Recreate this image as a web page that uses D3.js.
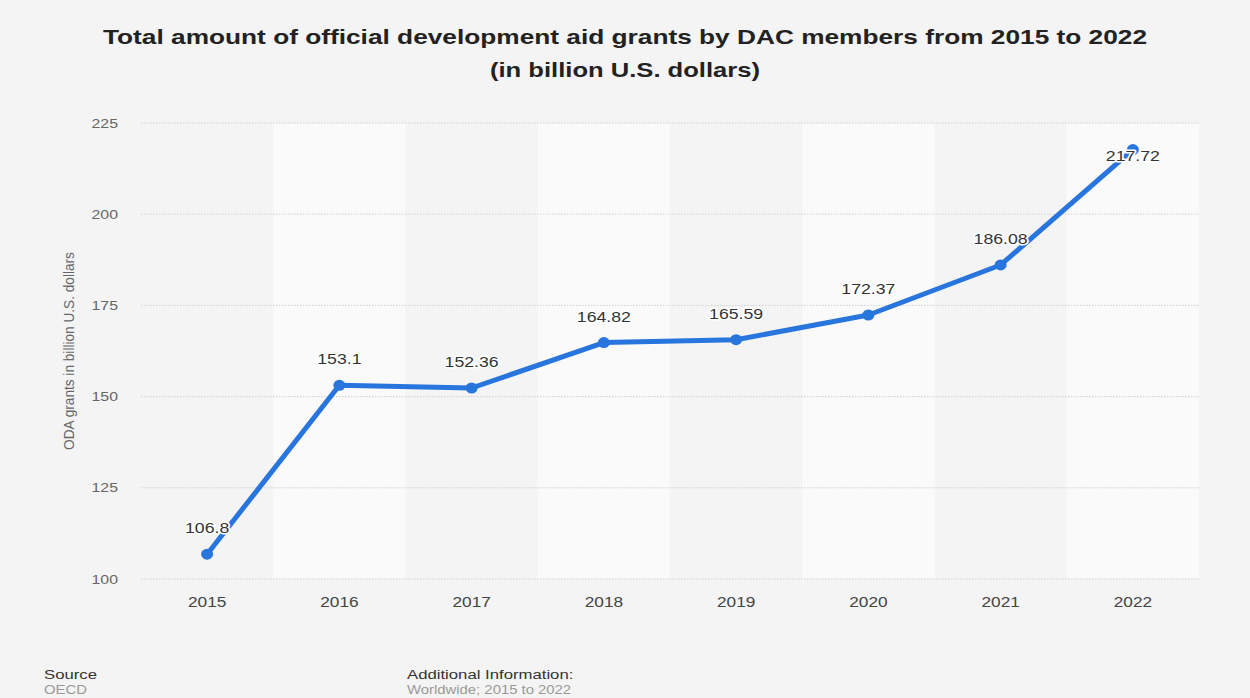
<!DOCTYPE html>
<html>
<head>
<meta charset="utf-8">
<script src="https://cdn.jsdelivr.net/npm/d3@7"></script>
<style>
  body { margin: 0; background: #f4f4f4; font-family: "Liberation Sans", Arial, sans-serif; }
  svg { display: block; }
</style>
</head>
<body>
<svg id="chart" width="1250" height="698"></svg>
<script>
const years = ["2015", "2016", "2017", "2018", "2019", "2020", "2021", "2022"];
const grants = [106.8, 153.1, 152.36, 164.82, 165.59, 172.37, 186.08, 217.72];
const yTicks = [100, 125, 150, 175, 200, 225];

const svg = d3.select("#chart");
const width = 1250, height = 698;
const margin = {top: 123, right: 51, bottom: 119, left: 141};

svg.append("rect").attr("width", width).attr("height", height).attr("fill", "#f4f4f4");

const x = d3.scaleBand().domain(years).range([margin.left, width - margin.right]);
const y = d3.scaleLinear().domain([100, 225]).range([height - margin.bottom, margin.top]);

// the reference text is a bit wide, stretch it horizontally
function stretched(sel, px, py, sx) {
  return sel.attr("transform", (d, i) => `translate(${px(d, i)},${py(d, i)}) scale(${sx},1)`);
}

// alternating bands
svg.append("g").selectAll("rect")
  .data(years.filter((d, i) => i % 2 == 1))
  .join("rect")
  .attr("x", d => x(d))
  .attr("y", y(225))
  .attr("width", x.bandwidth())
  .attr("height", y(100) - y(225))
  .attr("fill", "#fafafa");

// grid
svg.append("g").selectAll("line")
  .data(yTicks)
  .join("line")
  .attr("x1", margin.left).attr("x2", width - margin.right)
  .attr("y1", d => y(d)).attr("y2", d => y(d))
  .attr("stroke", "#cfcfcf")
  .attr("stroke-width", 1)
  .attr("stroke-dasharray", "1.5,1.5");

// y tick labels
stretched(svg.append("g").selectAll("text")
  .data(yTicks)
  .join("text"), () => 118, d => y(d) + 4.5, 1.22)
  .attr("text-anchor", "end")
  .attr("font-size", 13)
  .attr("fill", "#666")
  .text(d => d);

// x labels
stretched(svg.append("g").selectAll("text")
  .data(years)
  .join("text"), d => x(d) + x.bandwidth() / 2, () => 607, 1.15)
  .attr("text-anchor", "middle")
  .attr("font-size", 15)
  .attr("fill", "#444")
  .text(d => d);

// y axis title
svg.append("text")
  .attr("transform", `translate(74,${(y(100) + y(225)) / 2}) rotate(-90) scale(1.05,1.15)`)
  .attr("text-anchor", "middle")
  .attr("font-size", 13)
  .attr("fill", "#666")
  .text("ODA grants in billion U.S. dollars");

// line
const pts = years.map((d, i) => [x(d) + x.bandwidth() / 2, y(grants[i])]);
svg.append("path")
  .attr("d", d3.line()(pts))
  .attr("fill", "none")
  .attr("stroke", "#2876dd")
  .attr("stroke-width", 5)
  .attr("stroke-linejoin", "round");

svg.append("g").selectAll("ellipse")
  .data(pts)
  .join("ellipse")
  .attr("cx", d => d[0]).attr("cy", d => d[1])
  .attr("rx", 6).attr("ry", 5.5)
  .attr("fill", "#2876dd");

// value labels (last one sits on its point, as in the original)
stretched(svg.append("g").selectAll("text")
  .data(years)
  .join("text"),
  d => x(d) + x.bandwidth() / 2,
  (d, i) => i == years.length - 1 ? y(grants[i]) + 11 : y(grants[i]) - 21, 1.18)
  .attr("text-anchor", "middle")
  .attr("font-size", 15)
  .attr("fill", "#333")
  .attr("stroke", "#fff")
  .attr("stroke-width", 3)
  .attr("stroke-linejoin", "round")
  .attr("paint-order", "stroke")
  .text((d, i) => grants[i]);

// title
const title = svg.append("text")
  .attr("text-anchor", "middle")
  .attr("font-size", 20.5)
  .attr("font-weight", "bold")
  .attr("fill", "#222");
title.append("tspan").attr("x", 625).attr("y", 44)
  .attr("textLength", 1044).attr("lengthAdjust", "spacingAndGlyphs")
  .text("Total amount of official development aid grants by DAC members from 2015 to 2022");
title.append("tspan").attr("x", 625).attr("y", 77)
  .attr("textLength", 270).attr("lengthAdjust", "spacingAndGlyphs")
  .text("(in billion U.S. dollars)");

// footer
const foot = [
  {x: 44, y: 679, s: 13.5, c: "#333", t: "Source"},
  {x: 44, y: 694, s: 12, c: "#999", t: "OECD"},
  {x: 407, y: 679, s: 13.5, c: "#333", t: "Additional Information:"},
  {x: 407, y: 694, s: 12, c: "#999", t: "Worldwide; 2015 to 2022"}
];
stretched(svg.append("g").selectAll("text")
  .data(foot)
  .join("text"), d => d.x, d => d.y, 1.24)
  .attr("font-size", d => d.s)
  .attr("fill", d => d.c)
  .text(d => d.t);
</script>
</body>
</html>
